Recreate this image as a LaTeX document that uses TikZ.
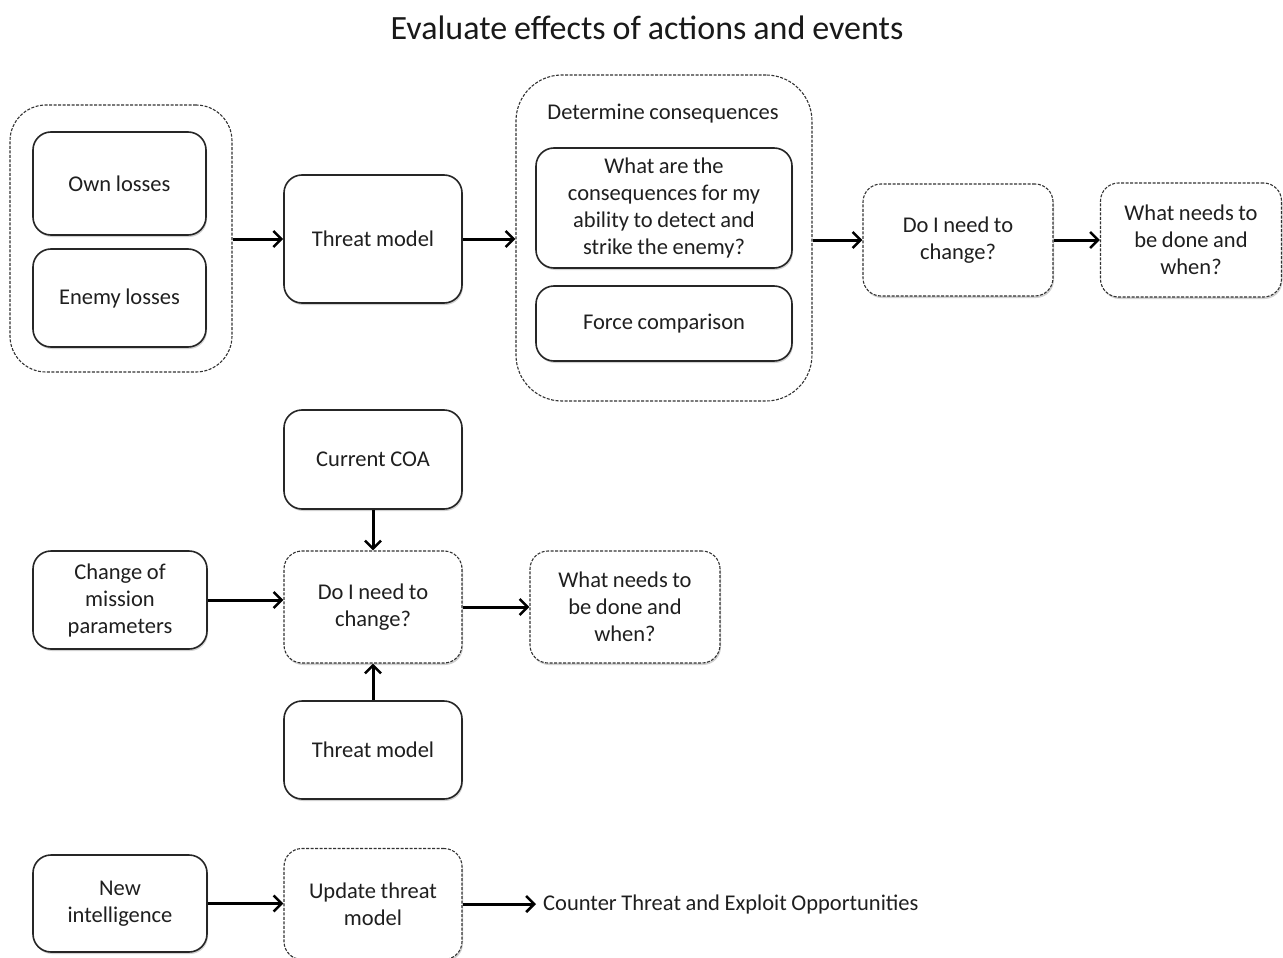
\documentclass[tikz,border=0pt]{standalone}
\usepackage{fontspec}
\setmainfont{Carlito}[WordSpace=0.9]
\usetikzlibrary{arrows.meta,shadows}
\begin{document}
\begin{tikzpicture}[x=1pt,y=-1pt,
  every node/.style={font=\fontsize{22.5}{27}\selectfont, text=black!88, align=center},
  basebox/.style={rectangle, rounded corners=18pt, inner sep=0pt,
    drop shadow={shadow xshift=1pt, shadow yshift=-2pt, opacity=0.18, fill=black}},
  solidbox/.style={basebox, draw=black!85, line width=1.6pt, fill=white},
  dashbox/.style={basebox, draw=black!80, line width=1.1pt, dash pattern=on 3pt off 1.5pt, fill=white},
  groupbox/.style={rectangle, inner sep=0pt, draw=black!80, line width=1.1pt,
    dash pattern=on 3pt off 1.5pt, fill=white},
  arrowline/.style={draw=black, line width=3pt,
    -{Straight Barb[length=8pt,width=16pt,line width=2.6pt]}}
]
\useasboundingbox (0,0) rectangle (1283,958);

% title
\node[font=\fontsize{34}{40}\selectfont, text=black!90] (title) at (647,28) {Evaluate effects of actions and events};

% ---- top row ----
\node[groupbox, rounded corners=36pt, minimum width=222, minimum height=267] (losses) at (121,238.5) {};
\node[solidbox, minimum width=173, minimum height=103] (own) at (119.5,183.5) {Own losses};
\node[solidbox, minimum width=173, minimum height=98] (enemy) at (119.5,298) {Enemy losses};

\node[solidbox, minimum width=178, minimum height=128] (threat1) at (373,239) {Threat model};

\node[groupbox, rounded corners=46pt, minimum width=296, minimum height=326] (determine) at (664,238) {};
\node (detlabel) at (663,114) {Determine consequences};
\node[solidbox, minimum width=256, minimum height=120] (abil) at (664,208) {What are the\\ consequences for my\\ ability to detect and\\ strike the enemy?};
\node[solidbox, minimum width=256, minimum height=75] (force) at (664,323.5) {Force comparison};

\node[dashbox, minimum width=190, minimum height=112] (need1) at (958,240) {Do I need to\\ change?};
\node[dashbox, minimum width=181, minimum height=114] (done1) at (1191,240) {What needs to\\ be done and\\ when?};

\draw[arrowline] (losses.east |- threat1) -- (threat1.west);
\draw[arrowline] (threat1.east) -- (determine.west |- threat1);
\draw[arrowline] (determine.east |- need1) -- (need1.west);
\draw[arrowline] (need1.east) -- (done1.west |- need1);

% ---- middle cluster ----
\node[solidbox, minimum width=178, minimum height=99] (coa) at (373,459.5) {Current COA};
\node[dashbox, minimum width=178, minimum height=112] (need2) at (373,607) {Do I need to\\ change?};
\node[solidbox, minimum width=174, minimum height=98] (mission) at (120,600) {Change of\\ mission\\ parameters};
\node[dashbox, minimum width=190, minimum height=112] (done2) at (625,607) {What needs to\\ be done and\\ when?};
\node[solidbox, minimum width=178, minimum height=98] (threat2) at (373,750) {Threat model};

\draw[arrowline] (coa.south) -- (need2.north);
\draw[arrowline] (mission.east) -- (need2.west |- mission);
\draw[arrowline] (need2.east) -- (done2.west);
\draw[arrowline] (threat2.north) -- (need2.south);

% ---- bottom row ----
\node[solidbox, minimum width=174, minimum height=97] (intel) at (120,903.5) {New\\ intelligence};
\node[dashbox, minimum width=178, minimum height=111] (update) at (373,904) {Update threat\\ model};
\node[anchor=west, inner sep=0pt] (counter) at (543,904) {Counter Threat and Exploit Opportunities};

\draw[arrowline] (intel.east) -- (update.west |- intel);
\draw[arrowline] (update.east) -- ([xshift=-7pt]counter.west);
\end{tikzpicture}
\end{document}
